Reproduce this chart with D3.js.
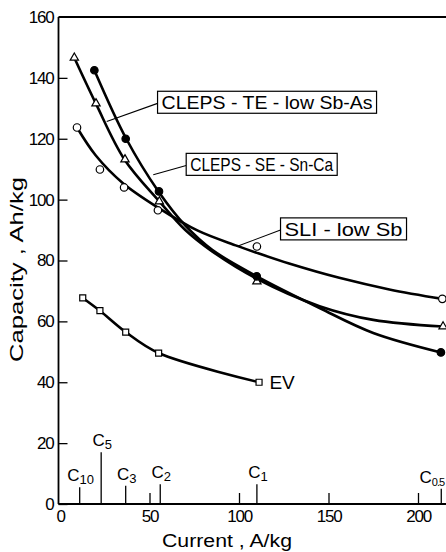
<!DOCTYPE html>
<html><head><meta charset="utf-8">
<script src="https://cdn.jsdelivr.net/npm/d3@7"></script>
<style>html,body{margin:0;padding:0;background:#fff;overflow:hidden}svg{display:block}</style>
</head><body>
<svg id="chart" width="446" height="552"></svg>
<script>
// ---- data ----
const yTicks = [0, 20, 40, 60, 80, 100, 120, 140, 160];
const xTicks = [0, 50, 100, 150, 200];

// measured points
const sliPoints = [[9.5,123.7],[22.3,109.9],[35.8,104],[54.7,96.5],[110,84.6],[213.6,67.4]];
const tePoints  = [[8,146.6],[20.1,131.6],[36.3,113.2],[55.5,99.4],[110,73.1],[214,58.3]];
const sePoints  = [[19.2,142.5],[36.7,120],[55.3,102.7],[109.9,74.8],[212.8,49.8]];
const evPoints  = [[12.7,67.7],[22.3,63.5],[36.7,56.5],[55.1,49.6],[111.2,40]];

// fitted curves (as drawn)
const sliCurve = [[9.5,123.7],[20,114.5],[35,105.5],[55,97.3],[77,89.8],[99,84.8],[110,82.5],[128,79],[156,74.3],[184,70.5],[213.6,67.4]];
const teCurve  = [[8,146.6],[20,131.6],[36,113.2],[55.5,99.4],[70,90],[85,83],[110,74],[145,65],[175,60.5],[214,58.3]];
const seCurve  = [[19.2,142.5],[37,120],[55,102.7],[70,91.5],[85,83.5],[110,74.8],[145,64.4],[175,56.2],[212.8,49.8]];
const evCurve  = evPoints;

// C-rate markers: [current, label subscript, line top value]
const cRates = [[11,"10",5.5],[23,"5",17],[36.7,"3",6],[56,"2",6.5],[110,"1",6.5],[213,"0.5",5]];

// labels: text, box [x0,y0] in data, leader [from curve point] -> box left
const boxLabels = [
  {text:"CLEPS - TE - low Sb-As", x:54.5, y:135.6, w:219, from:[26.1,125.7]},
  {text:"CLEPS - SE - Sn-Ca", x:70.5, y:115.2, w:151, from:[52.1,108.2]},
  {text:"SLI - low Sb", x:123.2, y:94, w:126, from:[98.7,84.6]}
];

// ---- drawing ----
const svg = d3.select("#chart");
const x = d3.scaleLinear().domain([0, 200]).range([60, 418]);
const y = d3.scaleLinear().domain([0, 160]).range([504, 17]);
const font = "'Liberation Sans', Arial, sans-serif";

const g = svg.append("g");

// axes frame
g.append("line").attr("x1", x(0)-1.5).attr("x2", 446).attr("y1", y(0)).attr("y2", y(0))
  .attr("stroke","#000").attr("stroke-width",1.8);
g.append("line").attr("x1", x(0)-1.5).attr("x2", x(0)-1.5).attr("y1", y(0)).attr("y2", y(160))
  .attr("stroke","#000").attr("stroke-width",1.8);
g.append("line").attr("x1", x(0)-1.5).attr("x2", 446).attr("y1", y(160)).attr("y2", y(160))
  .attr("stroke","#000").attr("stroke-width",1.8);

// y ticks
const yAxis = d3.axisLeft(y).tickValues(yTicks).tickSize(-9).tickPadding(14).tickFormat(d3.format("d"));
const ya = g.append("g").attr("transform", `translate(${x(0)-1.5},0)`).call(yAxis);
ya.select(".domain").remove();
ya.selectAll(".tick line").attr("stroke","#000").attr("stroke-width",1.3);
ya.selectAll(".tick text").attr("font-family",font).attr("font-size",17).attr("fill","#000")
  .attr("letter-spacing","-1.2px").attr("x",-5);
ya.selectAll(".tick").filter(d=>d===160).select("line").remove();

// x ticks
const xAxis = d3.axisBottom(x).tickValues(xTicks).tickSize(-11).tickPadding(8).tickFormat(d3.format("d"));
const xa = g.append("g").attr("transform", `translate(0,${y(0)})`).call(xAxis);
xa.select(".domain").remove();
xa.selectAll(".tick line").attr("stroke","#000").attr("stroke-width",1.3);
xa.selectAll(".tick").filter(d=>d===0).select("line").remove();
xa.selectAll(".tick text").attr("font-family",font).attr("font-size",17).attr("fill","#000")
  .attr("letter-spacing","-1.2px").attr("y",6).attr("dy","0.71em");

// C-rate markers
cRates.forEach(([c, sub, top]) => {
  g.append("line").attr("x1",x(c)).attr("x2",x(c)).attr("y1",y(0)).attr("y2",y(top))
    .attr("stroke","#000").attr("stroke-width",1.3);
  const t = g.append("text").attr("class","crate").attr("font-family",font).attr("font-size",17).attr("fill","#000")
    .attr("x", x(c)).attr("y", y(top)-6).attr("text-anchor","start");
  t.append("tspan").text("C");
  t.append("tspan").attr("font-size", sub==="0.5" ? 11 : 13).attr("dy",3)
    .attr("letter-spacing", sub==="0.5" ? "-1px" : "0px").text(sub);
});
// centre each C label over its line, but keep it inside the picture
g.selectAll("text.crate").each(function(){
  const bb = this.getBBox();
  const cx = +d3.select(this).attr("x");
  let nx = cx - bb.width/2 + 1;
  if (nx + bb.width > 445) nx = 445 - bb.width;
  d3.select(this).attr("x", nx);
});

// curves
const line = d3.line().x(d=>x(d[0])).y(d=>y(d[1])).curve(d3.curveCatmullRom.alpha(0.5));
[sliCurve, teCurve, seCurve, evCurve].forEach(c => {
  g.append("path").attr("d", line(c)).attr("fill","none").attr("stroke","#000")
    .attr("stroke-width",2.6).attr("stroke-linejoin","round").attr("stroke-linecap","round");
});

// markers
function markers(pts, type, size, fill){
  g.selectAll(null).data(pts).enter().append("path")
    .attr("transform", d=>`translate(${x(d[0])},${y(d[1])})`)
    .attr("d", d3.symbol().type(type).size(size))
    .attr("fill", fill).attr("stroke","#000").attr("stroke-width",1.2);
}
markers(sliPoints, d3.symbolCircle, 44, "#fff");
markers(tePoints, d3.symbolTriangle, 30, "#fff");
markers(sePoints, d3.symbolCircle, 44, "#000");
markers(evPoints, d3.symbolSquare, 36, "#fff");

// label boxes with leaders
boxLabels.forEach(b => {
  const bx = x(b.x), by = y(b.y), bh = 22;
  g.append("line").attr("x1", x(b.from[0])).attr("y1", y(b.from[1])).attr("x2", bx).attr("y2", by + bh*0.55)
    .attr("stroke","#000").attr("stroke-width",1.1);
  g.append("rect").attr("x",bx).attr("y",by).attr("width",b.w).attr("height",bh)
    .attr("fill","#fff").attr("stroke","#000").attr("stroke-width",1.2);
  g.append("text").attr("x",bx+4).attr("y",by+bh-4).attr("font-family",font).attr("font-size",19)
    .attr("textLength", b.w-8).attr("lengthAdjust","spacingAndGlyphs").attr("fill","#000").text(b.text);
});

// EV label
g.append("text").attr("x", x(117)).attr("y", y(40)+7).attr("font-family",font).attr("font-size",19)
  .attr("fill","#000").text("EV");

// axis titles
g.append("text").attr("x", 162).attr("y", 547).attr("font-family",font)
  .attr("font-size",18).attr("textLength",130).attr("lengthAdjust","spacingAndGlyphs")
  .attr("fill","#000").text("Current , A/kg");
g.append("text").attr("transform","translate(23,362) rotate(-90)")
  .attr("font-family",font).attr("font-size",18).attr("textLength",185).attr("lengthAdjust","spacingAndGlyphs")
  .attr("fill","#000").text("Capacity , Ah/kg");
</script>
</body></html>
